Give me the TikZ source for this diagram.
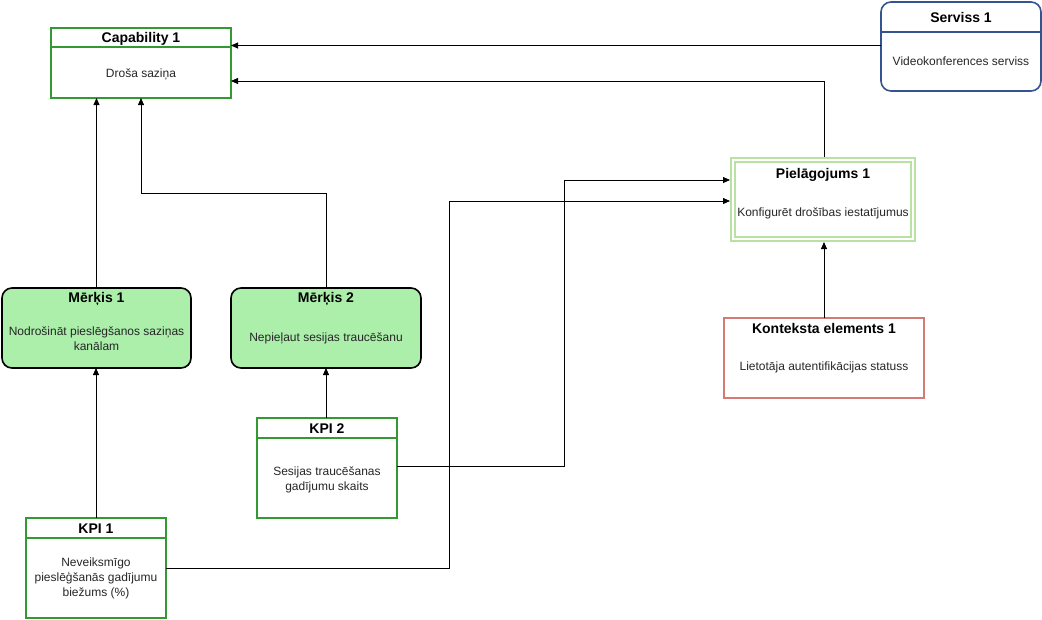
\documentclass[tikz,border=0pt]{standalone}
\usepackage{fontspec}
\setmainfont{Liberation Sans}
\usetikzlibrary{arrows.meta}
\definecolor{kgreen}{HTML}{339933}
\definecolor{kblue}{HTML}{34548F}
\definecolor{kred}{HTML}{D47B75}
\definecolor{kfill}{HTML}{ABEFAB}
\definecolor{kpale}{HTML}{B9E0A5}
\tikzset{
  every node/.style={font=\fontsize{12}{15}\selectfont, inner sep=0pt, outer sep=0pt},
  gbox/.style={draw=kgreen, line width=2pt, rectangle},
  bbox/.style={draw=kblue, line width=1.6pt, rounded corners=10pt, rectangle},
  goal/.style={draw=black, line width=1.6pt, fill=kfill, rounded corners=10pt, rectangle},
  ctx/.style={draw=kred, line width=1.6pt, rectangle},
  adapt/.style={draw=kpale, line width=2pt, double distance=2.5pt, rectangle},
  ttl/.style={font=\bfseries\fontsize{14}{17}\selectfont},
  txt/.style={align=center, text=black!85},
  conn/.style={draw=black, line width=0.8pt, -{Triangle[length=7pt,width=6pt]}},
}
\begin{document}
\begin{tikzpicture}[x=1pt,y=-1pt]
\useasboundingbox (0,0) rectangle (1042,619);
% Capability 1
\node[gbox, minimum width=180pt, minimum height=70pt] (cap) at (141,63) {};
\draw[kgreen, line width=2pt] (51,47) -- (231,47);
\node[ttl] (capt) at (141,38.5) {Capability 1};
\node[txt] (capb) at (141,74) {Droša saziņa};
% Serviss 1
\node[bbox, minimum width=160pt, minimum height=89pt] (srv) at (961,46.5) {};
\draw[kblue, line width=1.6pt] (881,32) -- (1041,32);
\node[ttl] (srvt) at (961,17) {Serviss 1};
\node[txt] (srvb) at (961,61) {Videokonferences serviss};
% Pielagojums 1
\node[adapt, minimum width=180pt, minimum height=79pt] (pie) at (823,199.5) {};
\node[ttl] (piet) at (823,175) {Pielāgojums 1};
\node[txt] (pieb) at (823,213) {Konfigurēt drošības iestatījumus};
% Merkis 1
\node[goal, minimum width=189pt, minimum height=80pt] (m1) at (96.5,328) {};
\node[ttl] (m1t) at (96.5,299) {Mērķis 1};
\node[txt] (m1b) at (96.5,338.5) {Nodrošināt pieslēgšanos saziņas\\kanālam};
% Merkis 2
\node[goal, minimum width=190pt, minimum height=80pt] (m2) at (326,328) {};
\node[ttl] (m2t) at (326,299) {Mērķis 2};
\node[txt] (m2b) at (326,338) {Nepieļaut sesijas traucēšanu};
% Konteksta elements 1
\node[ctx, minimum width=200pt, minimum height=80pt] (ctx) at (824,358) {};
\node[ttl] (ctxt) at (824,328.5) {Konteksta elements 1};
\node[txt] (ctxb) at (824,367) {Lietotāja autentifikācijas statuss};
% KPI 2
\node[gbox, minimum width=140pt, minimum height=100pt] (k2) at (327,468) {};
\draw[kgreen, line width=2pt] (257,438) -- (397,438);
\node[ttl] (k2t) at (327,428.5) {KPI 2};
\node[txt] (k2b) at (327,479.5) {Sesijas traucēšanas\\gadījumu skaits};
% KPI 1
\node[gbox, minimum width=140pt, minimum height=100pt] (k1) at (96,568) {};
\draw[kgreen, line width=2pt] (26,538) -- (166,538);
\node[ttl] (k1t) at (96,528.5) {KPI 1};
\node[txt] (k1b) at (96,578) {Neveiksmīgo\\pieslēģšanās gadījumu\\biežums (\%)};
% connectors
\draw[conn] (srv.west |- 0,45.5) -- (cap.east |- 0,45.5);
\draw[conn] (824,157) -- (824,81) -- (cap.east |- 0,81);
\draw[conn] (m1.north) -- (cap.south -| m1.north);
\draw[conn] (m2.north) -- (326,193) -- (141,193) -- (141,98);
\draw[conn] (k1.north) -- (m1.south -| k1.north);
\draw[conn] (k2.north -| m2.south) -- (m2.south);
\draw[conn] (k2.east |- 0,466) -- (564,466) -- (564,180) -- (730,180);
\draw[conn] (k1.east |- 0,568) -- (449,568) -- (449,201) -- (730,201);
\draw[conn] (ctx.north) -- (824,242);
\end{tikzpicture}
\end{document}
